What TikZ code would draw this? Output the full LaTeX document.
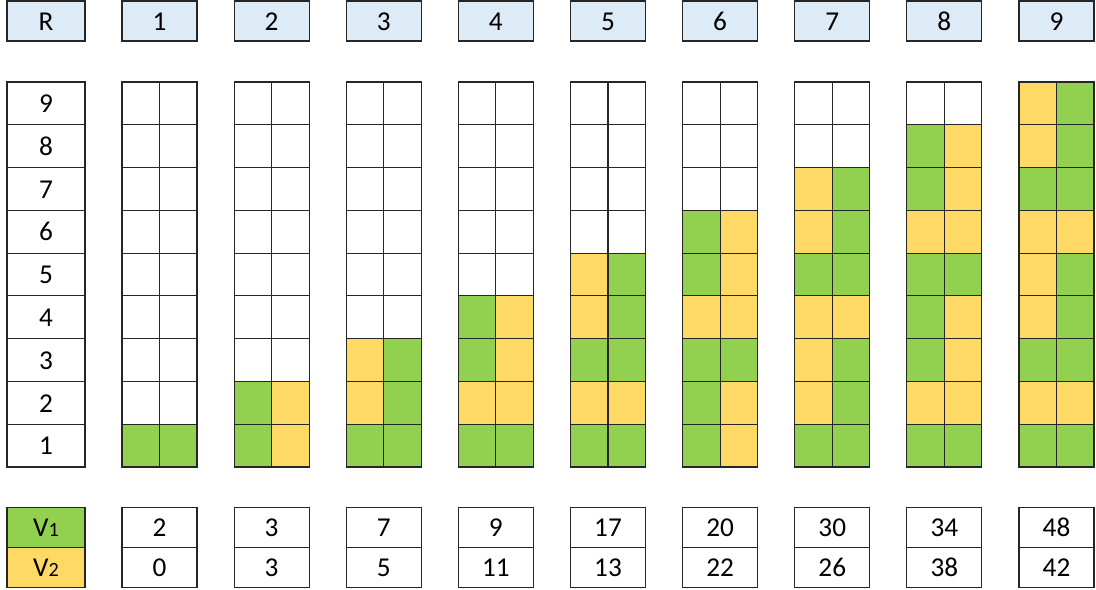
\documentclass[tikz,border=0pt]{standalone}
\usepackage{fontspec}
\setmainfont{Carlito}
\definecolor{gr}{HTML}{92D050}
\definecolor{ye}{HTML}{FFD966}
\definecolor{head}{HTML}{DDEBF7}
\tikzset{
  box/.style={draw=black!85, line width=0.6pt, rectangle, inner sep=0pt,
    font=\fontsize{15.5}{18}\selectfont, text height=1.05em, text depth=0pt},
  headbox/.style={box, fill=head, minimum width=1.5cm, minimum height=0.8cm},
  cell/.style={box, fill=white, minimum width=0.75cm, minimum height=0.856cm},
  rowbox/.style={box, minimum width=1.56cm, minimum height=0.856cm},
  valbox/.style={box, minimum width=1.5cm, minimum height=0.8cm},
}
\newcommand{\vsub}[1]{V{\fontsize{11.5}{13}\selectfont #1}}
\begin{document}
\begin{tikzpicture}[x=0.02cm, y=-0.02cm]
    \useasboundingbox (0,0) rectangle (1096,589);

    % 1. Header row
    \node[headbox, minimum width=1.56cm] (hR) at (46,21) {R};
    \foreach \k in {1,...,9}
        \node[headbox] (h\k) at ({159.5+(\k-1)*112.125},21) {\k};

    % 2. Row numbers and empty cells
    \foreach \r in {1,...,9} {
        \node[rowbox] (r\r) at (46,{467-(\r-0.5)*42.78}) {\r};
        \foreach \k in {1,...,9} {
            \node[cell] (e\k-\r-a) at ({140.75+(\k-1)*112.125},{467-(\r-0.5)*42.78}) {};
            \node[cell] (e\k-\r-b) at ({178.25+(\k-1)*112.125},{467-(\r-0.5)*42.78}) {};
        }
    }

    % 3. Filled cells, from row 1 upwards
    \foreach \k/\cells in {
        1/{gr/gr},
        2/{gr/ye,gr/ye},
        3/{gr/gr,ye/gr,ye/gr},
        4/{gr/gr,ye/ye,gr/ye,gr/ye},
        5/{gr/gr,ye/ye,gr/gr,ye/gr,ye/gr},
        6/{gr/ye,gr/ye,gr/gr,ye/ye,gr/ye,gr/ye},
        7/{gr/gr,ye/gr,ye/gr,ye/ye,gr/gr,ye/gr,ye/gr},
        8/{gr/gr,ye/ye,gr/ye,gr/ye,gr/gr,ye/ye,gr/ye,gr/ye},
        9/{gr/gr,ye/ye,gr/gr,ye/gr,ye/gr,ye/ye,gr/gr,ye/gr,ye/gr}} {
        \foreach \a/\b [count=\r] in \cells {
            \node[cell, fill=\a] (c\k-\r-a) at ({140.75+(\k-1)*112.125},{467-(\r-0.5)*42.78}) {};
            \node[cell, fill=\b] (c\k-\r-b) at ({178.25+(\k-1)*112.125},{467-(\r-0.5)*42.78}) {};
        }
    }

    % 4. Values table
    \node[valbox, fill=gr, minimum width=1.56cm] (v1) at (46,527.5) {\vsub{1}};
    \node[valbox, fill=ye, minimum width=1.56cm] (v2) at (46,567.5) {\vsub{2}};
    \foreach \k/\p/\q in {1/2/0, 2/3/3, 3/7/5, 4/9/11, 5/17/13,
                          6/20/22, 7/30/26, 8/34/38, 9/48/42} {
        \node[valbox] (p\k) at ({159.5+(\k-1)*112.125},527.5) {\p};
        \node[valbox] (q\k) at ({159.5+(\k-1)*112.125},567.5) {\q};
    }
\end{tikzpicture}
\end{document}
